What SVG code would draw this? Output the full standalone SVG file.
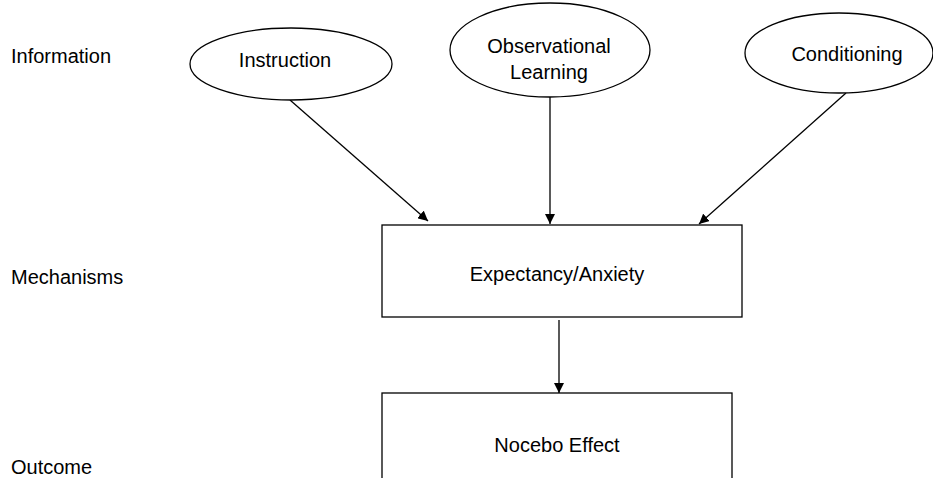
<svg xmlns="http://www.w3.org/2000/svg" width="933" height="478" viewBox="0 0 933 478">
<style>
text{font-family:"Liberation Sans",Arial,sans-serif;font-size:20px;fill:#000}
.c{text-anchor:middle}
.s{fill:#fff;stroke:#000;stroke-width:1.3}
.l{stroke:#000;stroke-width:1.3;fill:none;marker-end:url(#a)}
</style>
<defs>
<marker id="a" viewBox="0 0 10 10" refX="10" refY="5" markerWidth="10" markerHeight="10" markerUnits="userSpaceOnUse" orient="auto">
<path d="M0,0 L10,5 L0,10 z" fill="#000"/>
</marker>
</defs>
<rect width="933" height="478" fill="#fff"/>
<g id="labels">
<text x="11" y="63">Information</text>
<text x="11" y="284">Mechanisms</text>
<text x="11" y="474">Outcome</text>
</g>
<g id="connectors">
<line class="l" x1="290" y1="100" x2="428" y2="221"/>
<line class="l" x1="550" y1="97" x2="550" y2="224"/>
<line class="l" x1="846" y1="93" x2="699" y2="224"/>
<line class="l" x1="559" y1="320" x2="559" y2="393"/>
</g>
<g id="instruction">
<ellipse class="s" cx="291" cy="64" rx="101" ry="36"/>
<text class="c" x="285" y="67">Instruction</text>
</g>
<g id="observational">
<ellipse class="s" cx="550" cy="50" rx="100" ry="47"/>
<text class="c" x="549" y="53">Observational</text>
<text class="c" x="549" y="79">Learning</text>
</g>
<g id="conditioning">
<ellipse class="s" cx="839" cy="53" rx="94" ry="40"/>
<text class="c" x="847" y="61">Conditioning</text>
</g>
<g id="expectancy">
<rect class="s" x="382" y="225" width="360" height="92"/>
<text class="c" x="557" y="281">Expectancy/Anxiety</text>
</g>
<g id="nocebo">
<rect class="s" x="382" y="393" width="350" height="100"/>
<text class="c" x="557" y="452">Nocebo Effect</text>
</g>
</svg>
